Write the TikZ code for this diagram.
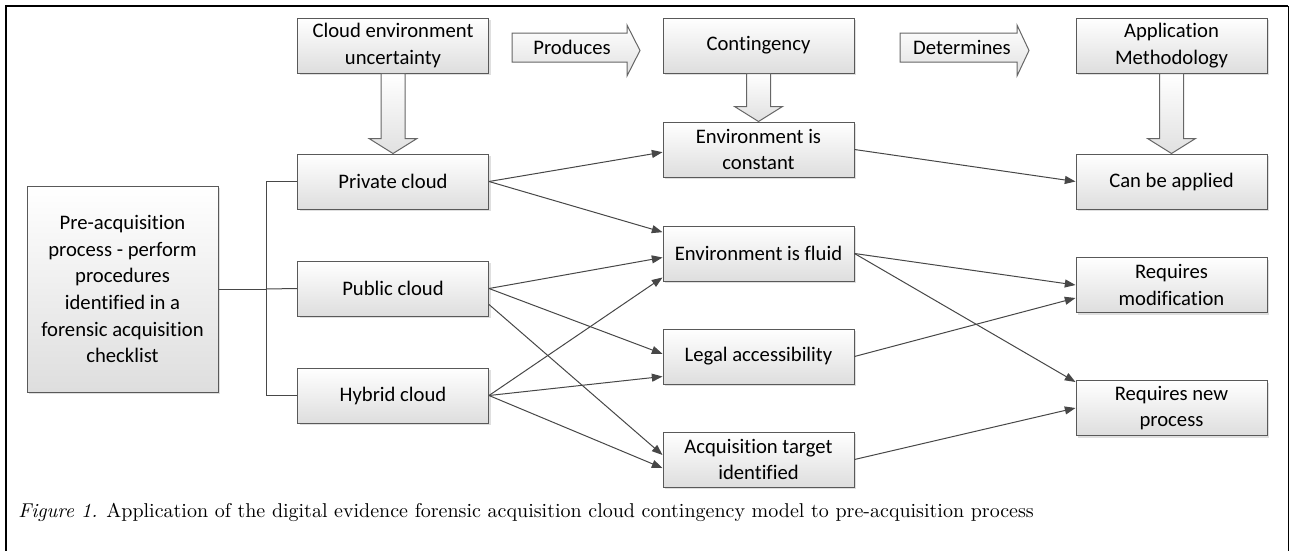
\documentclass[tikz,border=0pt]{standalone}
\usepackage{fontspec}
\newfontfamily\boxfont{Carlito}[Ligatures=NoCommon]
\newfontfamily\capfont{lmroman10-regular.otf}[ItalicFont=lmroman10-italic.otf]
\usetikzlibrary{arrows.meta,shadows,calc}

% block arrow pointing down from one box to the next
\newcommand{\bigdown}[2]{%
  \draw[bigarrow] ($(#1.south)+(-12,0)$) -- ($(#2.north)+(-12,-15)$)
    -- ($(#2.north)+(-24,-15)$) -- (#2.north) -- ($(#2.north)+(24,-15)$)
    -- ($(#2.north)+(12,-15)$) -- ($(#1.south)+(12,0)$) -- cycle;
}

\begin{document}
\begin{tikzpicture}[
  x=0.75pt, y=-0.75pt,
  box/.style={draw=black!65, line width=0.75pt, top color=white,
    bottom color=black!13, align=center, inner sep=2pt,
    minimum width=143.25pt, minimum height=41.25pt,
    font=\boxfont\fontsize{15.5}{20}\selectfont,
    drop shadow={shadow xshift=1.5pt, shadow yshift=-1.5pt,
      opacity=0.25, fill=black!50}},
  bigarrow/.style={draw=black!60, line width=0.75pt, top color=white,
    bottom color=black!12},
  lbl/.style={font=\boxfont\fontsize{15.5}{20}\selectfont, inner sep=0pt},
  link/.style={draw=black!72, line width=0.75pt,
    -{Triangle[length=8pt,width=6pt]}},
  fork/.style={draw=black!72, line width=0.75pt}
]
  \useasboundingbox (0,0) rectangle (1289,550);

  %% Frame
  \draw[line width=1.7pt] (6,552) -- (6,6) -- (1288,6);
  \draw[line width=0.75pt] (1288,6) -- (1288,552);

  %% Header boxes
  \node[box] (uncert) at (393,45.5) {Cloud environment\\uncertainty};
  \node[box] (conting) at (758.5,45.5) {Contingency};
  \node[box] (method) at (1171.5,45.5) {Application\\Methodology};

  %% Left column
  \node[box, minimum height=154.5pt] (pre) at (122.5,289)
    {Pre-acquisition\\process - perform\\procedures\\identified in a\\forensic acquisition\\checklist};
  \node[box] (private) at (393,181.5) {Private cloud};
  \node[box] (public) at (393,288.5) {Public cloud};
  \node[box] (hybrid) at (393,395.5) {Hybrid cloud};

  %% Middle column
  \node[box] (constant) at (758.5,149.5) {Environment is\\constant};
  \node[box] (fluid) at (758.5,253.5) {Environment is fluid};
  \node[box] (legal) at (758.5,356.5) {Legal accessibility};
  \node[box] (target) at (758.5,459.5) {Acquisition target\\identified};

  %% Right column
  \node[box] (applied) at (1171.5,181.5) {Can be applied};
  \node[box] (modif) at (1171.5,285) {Requires\\modification};
  \node[box] (newproc) at (1171.5,408) {Requires new\\process};

  %% Horizontal block arrows
  \draw[bigarrow] (512,33) -- (627,33) -- (627,25) -- (640,50.5)
    -- (627,76) -- (627,62) -- (512,62) -- cycle;
  \node[lbl] (produces) at (572,47.5) {Produces};
  \draw[bigarrow] (900,33) -- (1017,33) -- (1017,25) -- (1029,50.5)
    -- (1017,76) -- (1017,62) -- (900,62) -- cycle;
  \node[lbl] (determines) at (962,47.5) {Determines};

  %% Vertical block arrows
  \bigdown{uncert}{private}
  \bigdown{conting}{constant}
  \bigdown{method}{applied}

  %% Fork from pre-acquisition
  \coordinate (split) at (266,289);
  \draw[fork] (pre.east) -- (split);
  \draw[fork] (private.west) -| (split);
  \draw[fork] (hybrid.west) -| (split);
  \draw[fork] (public.west) -- (split);

  %% Cloud type to contingency
  \draw[link] (private.east) -- ([yshift=-2pt]constant.west);
  \draw[link] (private.east) -- ([yshift=16pt]fluid.west);
  \draw[link] (public.east) -- ([yshift=-3pt]fluid.west);
  \draw[link] (public.east) -- ([yshift=2pt]legal.west);
  \draw[link] ([yshift=-12pt]public.east) -- ([yshift=3.4pt]target.west);
  \draw[link] (hybrid.east) -- ([yshift=3pt]fluid.south west);
  \draw[link] (hybrid.east) -- ([yshift=-15pt]legal.west);
  \draw[link] (hybrid.east) -- ([yshift=-6.4pt]target.west);

  %% Contingency to methodology
  \draw[link] (constant.east) -- (applied.west);
  \draw[link] (fluid.east) -- (modif.west);
  \draw[link] (fluid.east) -- ([yshift=19.5pt]newproc.west);
  \draw[link] (legal.east) -- ([yshift=-9.75pt]modif.west);
  \draw[link] (target.east) -- (newproc.west);

  %% Caption
  \node[anchor=west, inner sep=0pt, font=\capfont\fontsize{15}{18}\selectfont]
    (caption) at (18,512) {\emph{Figure 1.} Application of the digital evidence forensic acquisition cloud contingency model to pre-acquisition process};
\end{tikzpicture}
\end{document}
